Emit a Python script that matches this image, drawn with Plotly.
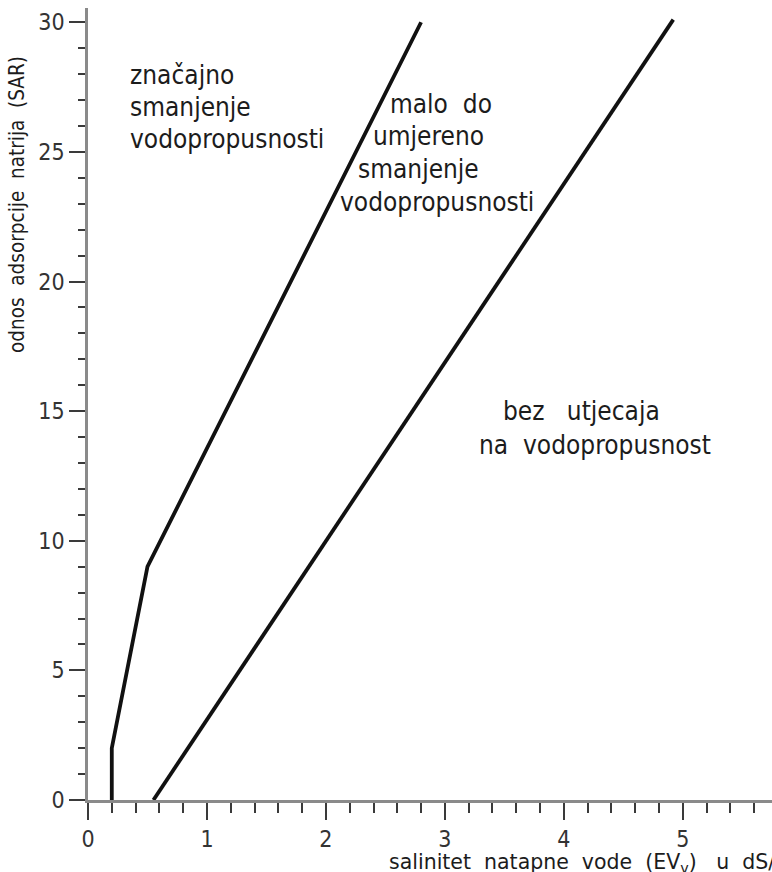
import plotly.graph_objects as go

# Boundary between "significant" and "slight to moderate" permeability reduction
severe_ec = [0.2, 0.2, 0.5, 2.8]
severe_sar = [0, 2, 9, 30]

# Boundary between "slight to moderate" and "no effect" on permeability
none_ec = [0.55, 4.92]
none_sar = [0, 30.1]

x_ticks = [0, 1, 2, 3, 4, 5]
y_ticks = [0, 5, 10, 15, 20, 25, 30]

FONT = "DejaVu Sans Condensed, DejaVu Sans, Liberation Sans Narrow, sans-serif"
WIDE = "DejaVu Sans, sans-serif"
INK = "#1c1c1c"
AXIS = "#8a8a8a"

fig = go.Figure()
for xs, ys in [(severe_ec, severe_sar), (none_ec, none_sar)]:
    fig.add_trace(go.Scatter(
        x=xs, y=ys, mode="lines",
        line=dict(color="#111111", width=3.8),
        hoverinfo="skip", showlegend=False,
    ))

# zone labels, one annotation per line so each line can follow the boundary
labels = [
    ("značajno", 0.34, 27.3),
    ("smanjenje", 0.34, 26.08),
    ("vodopropusnosti", 0.34, 24.84),
    ("malo  do", 2.52, 26.2),
    ("umjereno", 2.38, 24.97),
    ("smanjenje", 2.25, 23.7),
    ("vodopropusnosti", 2.1, 22.4),
    ("bez   utjecaja", 3.47, 14.35),
    ("na  vodopropusnost", 3.27, 13.05),
]
for text, x, y in labels:
    fig.add_annotation(
        text=text, x=x, y=y, xref="x", yref="y",
        xanchor="left", yanchor="bottom", showarrow=False,
        font=dict(family=FONT, size=26, color=INK),
    )

fig.add_annotation(
    text="odnos  adsorpcije  natrija  (SAR)",
    xref="paper", yref="paper", x=-0.103, y=0.752,
    xanchor="center", yanchor="middle", textangle=-90, showarrow=False,
    font=dict(family=FONT, size=20.5, color=INK),
)
fig.add_annotation(
    text="salinitet  natapne  vode  (EV<sub>v</sub>)   u  dS/m",
    xref="paper", yref="paper", x=0.4386, y=-0.0615,
    xanchor="left", yanchor="top", showarrow=False, borderpad=0,
    font=dict(family=WIDE, size=20.5, color=INK),
)

axis_common = dict(
    showline=True, linecolor=AXIS, linewidth=2.5,
    showgrid=False, zeroline=False,
    ticks="outside", tickcolor="#3a3a3a", tickwidth=2,
    tickfont=dict(family=FONT, size=23, color="#333333"),
)
fig.update_xaxes(
    range=[0, 5.75], tickmode="array", tickvals=x_ticks,
    ticktext=[str(v) for v in x_ticks], ticklen=17,
    minor=dict(dtick=0.2, tick0=0, ticks="outside", ticklen=10,
               tickcolor="#3a3a3a", tickwidth=2),
    **axis_common,
)
fig.update_yaxes(
    range=[0, 30.55], tickmode="array", tickvals=y_ticks,
    ticktext=[str(v) for v in y_ticks], ticklen=16,
    minor=dict(dtick=1, tick0=0, ticks="outside", ticklen=7,
               tickcolor="#3a3a3a", tickwidth=2),
    **axis_common,
)
fig.update_layout(
    width=772, height=872,
    margin=dict(l=88, r=0, t=8, b=72, pad=0),
    paper_bgcolor="white", plot_bgcolor="white",
)
fig.write_html("out.html")
